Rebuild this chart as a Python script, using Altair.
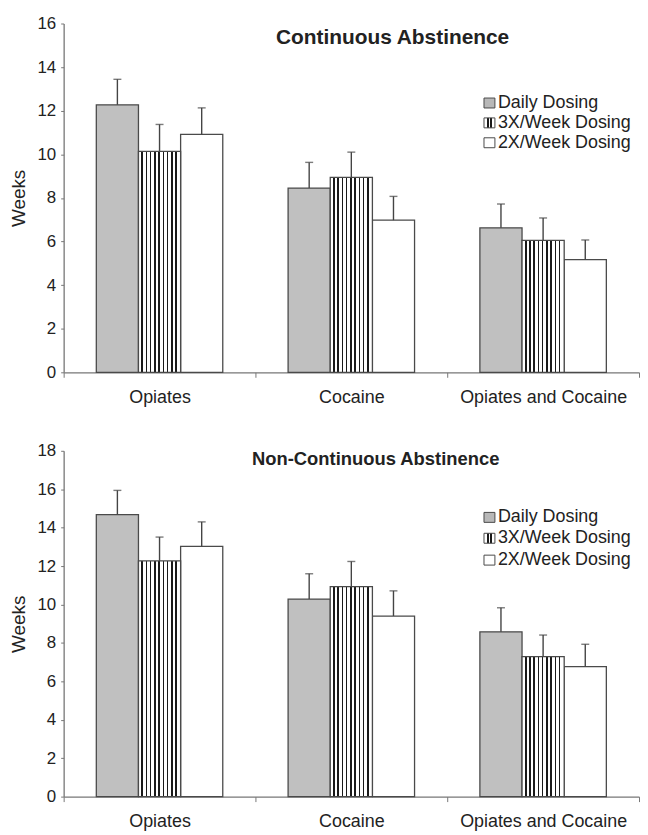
import altair as alt
import pandas as pd

categories = ["Opiates", "Cocaine", "Opiates and Cocaine"]
series = ["Daily Dosing", "3X/Week Dosing", "2X/Week Dosing"]

# Continuous abstinence (weeks) and upper error-bar tops
cont_daily = [12.27, 8.45, 6.63]
cont_3x = [10.13, 8.94, 6.05]
cont_2x = [10.91, 6.98, 5.17]
cont_daily_top = [13.44, 9.63, 7.72]
cont_3x_top = [11.37, 10.10, 7.08]
cont_2x_top = [12.13, 8.07, 6.07]

# Non-continuous abstinence
nonc_daily = [14.68, 10.28, 8.58]
nonc_3x = [12.27, 10.93, 7.29]
nonc_2x = [13.03, 9.40, 6.77]
nonc_daily_top = [15.94, 11.60, 9.83]
nonc_3x_top = [13.51, 12.24, 8.41]
nonc_2x_top = [14.30, 10.71, 7.93]

FONT = "Liberation Sans"
EDGE = "#4a4a4a"
TXT = "#222222"


def stripes(centers, half):
    stops = []
    for c in centers:
        a, b = c - half, c + half
        stops += [
            {"offset": a, "color": "white"},
            {"offset": a, "color": "#1a1a1a"},
            {"offset": b, "color": "#1a1a1a"},
            {"offset": b, "color": "white"},
        ]
    stops = [{"offset": 0, "color": "white"}] + stops + [{"offset": 1, "color": "white"}]
    return {"gradient": "linear", "x1": 0, "y1": 0, "x2": 1, "y2": 0, "stops": stops}


BAR_STRIPES = stripes([0.09 + 0.1 * i for i in range(9)], 0.019)
LEG_STRIPES = stripes([0.36, 0.64], 0.07)


def panel(vals, tops, title, ymax, title_xy, title_size, legend_ys, label_pad, h):
    rows = []
    for s, v, t in zip(series, vals, tops):
        for c, vv, tt in zip(categories, v, t):
            rows.append({"category": c, "series": s, "value": vv, "top": tt})
    df = pd.DataFrame(rows)

    x = alt.X(
        "category:N",
        sort=categories,
        scale=alt.Scale(paddingInner=0, paddingOuter=0),
        axis=alt.Axis(
            title=None, labelAngle=0, tickBand="extent", tickSize=5,
            labelPadding=label_pad, labelFontSize=18, labelFont=FONT,
            labelColor=TXT, domainColor="#777777", tickColor="#777777",
            domainWidth=1.3,
        ),
    )
    xo = alt.XOffset(
        "series:N", sort=series,
        scale=alt.Scale(domain=series, paddingInner=0, paddingOuter=0.775),
    )
    yscale = alt.Scale(domain=[0, ymax], nice=False)
    yaxis = alt.Axis(
        title="Weeks", values=list(range(0, ymax + 1, 2)), tickSize=3,
        labelPadding=5, grid=False, labelFontSize=17, labelFont=FONT,
        labelColor=TXT, labelOverlap=False, titleFontSize=19, titleFont=FONT,
        titleFontWeight="normal", titleColor=TXT, titlePadding=8,
        domainColor="#777777", tickColor="#777777", domainWidth=1.3,
    )
    y = alt.Y("value:Q", scale=yscale, axis=yaxis, title="Weeks")
    y_top = alt.Y("top:Q", scale=yscale, axis=yaxis, title="Weeks")

    base = alt.Chart(df)
    bars_plain = base.transform_filter(
        alt.datum.series != series[1]
    ).mark_bar(stroke=EDGE, strokeWidth=1.3).encode(
        x=x, xOffset=xo, y=y,
        fill=alt.Fill(
            "series:N",
            scale=alt.Scale(domain=[series[0], series[2]], range=["#c0c0c0", "#ffffff"]),
            legend=None,
        ),
    )
    bars_striped = base.transform_filter(
        alt.datum.series == series[1]
    ).mark_bar(stroke=EDGE, strokeWidth=1.3, fill=BAR_STRIPES).encode(
        x=x, xOffset=xo, y=y,
    )
    err = base.mark_rule(color="#444444", strokeWidth=1.4).encode(
        x=x, xOffset=xo, y=y, y2="top:Q",
    )
    caps = base.mark_tick(color="#444444", size=8, thickness=1.4, orient="horizontal").encode(
        x=x, xOffset=xo, y=y_top,
    )

    layers = [bars_plain, bars_striped, err, caps]

    fills = ["#b8b8b8", LEG_STRIPES, "#ffffff"]
    for s, f, ly in zip(series, fills, legend_ys):
        ld = pd.DataFrame({"label": [s]})
        layers.append(
            alt.Chart(ld).mark_rect(fill=f, stroke=EDGE, strokeWidth=1).encode(
                x=alt.value(423), x2=alt.value(434),
                y=alt.value(ly - 5), y2=alt.value(ly + 5),
            )
        )
        layers.append(
            alt.Chart(ld).mark_text(
                align="left", baseline="middle", fontSize=18, font=FONT, color=TXT,
            ).encode(x=alt.value(437), y=alt.value(ly), text="label:N")
        )

    td = pd.DataFrame({"t": [title]})
    layers.append(
        alt.Chart(td).mark_text(
            align="center", baseline="middle", fontSize=title_size,
            fontWeight="bold", font=FONT, color=TXT,
        ).encode(x=alt.value(title_xy[0]), y=alt.value(title_xy[1]), text="t:N")
    )

    return alt.layer(*layers).properties(width=579, height=h)


top = panel(
    [cont_daily, cont_3x, cont_2x],
    [cont_daily_top, cont_3x_top, cont_2x_top],
    "Continuous Abstinence", 16, (331, 15), 21, [80, 100, 120], 11, 351,
)
bottom = panel(
    [nonc_daily, nonc_3x, nonc_2x],
    [nonc_daily_top, nonc_3x_top, nonc_2x_top],
    "Non-Continuous Abstinence", 18, (314, 8), 18.5, [67, 88, 110], 11, 348,
)

chart = alt.vconcat(top, bottom, spacing=36).properties(
    padding={"top": 4, "left": 2, "right": 0, "bottom": 0}
).configure_view(stroke=None)

chart.save("out.html", embed_options={"renderer": "svg", "actions": False})
